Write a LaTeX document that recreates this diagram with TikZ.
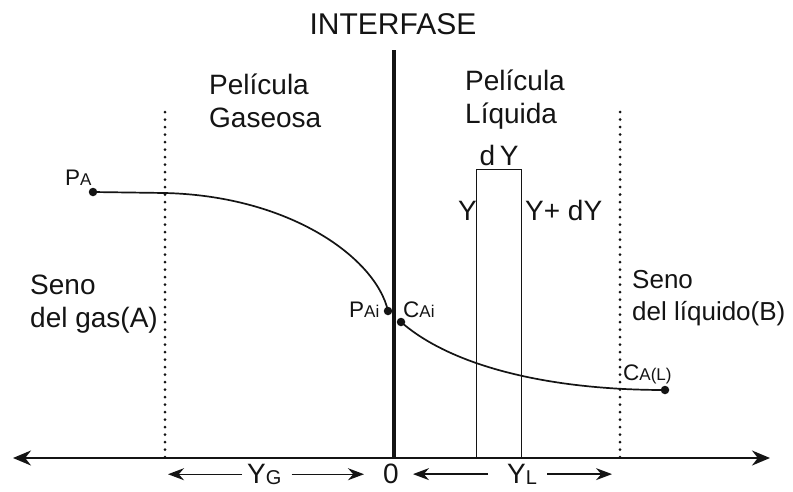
\documentclass[tikz,border=0pt]{standalone}
\usepackage{fontspec}
\setmainfont{Liberation Sans}
\usetikzlibrary{positioning, arrows.meta, calc}
\definecolor{FilmInk}{HTML}{141414}
\definecolor{FilmBG}{HTML}{FFFFFF}
\newcommand{\lowsub}[1]{{\fontsize{17}{19}\selectfont #1}}
\newcommand{\dimsub}[1]{\raisebox{-1.5pt}{\fontsize{20}{21}\selectfont #1}}
\tikzset{
  filmlbl/.style  = {font=\fontsize{28}{33}\selectfont, text=FilmInk,
                     inner sep=0pt, align=left},
  ptlbl/.style    = {font=\fontsize{22.5}{25}\selectfont, text=FilmInk, inner sep=0pt},
  ptdot/.style    = {circle, fill=FilmInk, inner sep=0pt, minimum size=8.5pt},
  profile/.style  = {FilmInk, line width=1.7pt},
  filmedge/.style = {FilmInk, line width=3pt, line cap=round,
                     dash pattern=on 0pt off 7.5pt},
  iface/.style    = {FilmInk, line width=4.8pt},
  slabbox/.style  = {draw=FilmInk, line width=1.4pt, inner sep=0pt},
  axisarr/.style  = {{Stealth[length=18pt, width=15pt]}-{Stealth[length=18pt, width=15pt]},
                     FilmInk, line width=2.2pt},
  dimarr/.style   = {-{Stealth[length=16pt, width=12pt]}, FilmInk, line width=1.4pt},
}

\begin{document}
\begin{tikzpicture}[x=1pt, y=-1pt]
    \fill[FilmBG] (0,0) rectangle (793,491);
    \useasboundingbox (0,0) rectangle (793,491);
    % distance axis and film limits
    \coordinate (axl) at (13,458);
    \coordinate (axr) at (770,458);
    \coordinate (gtop) at (165,112);
    \coordinate (ltop) at (620,112);
    \draw[filmedge] (gtop) -- (gtop |- axl);
    \draw[filmedge] (ltop) -- (ltop |- axl);
    \node[slabbox, minimum width=45pt, minimum height=289pt, anchor=north west] (slab) at (476,169) {};
    \draw[axisarr] (axl) -- (axr);
    % interface
    \node[filmlbl, font=\fontsize{30}{34}\selectfont, anchor=base] (iftitle) at (393,34) {INTERFASE};
    \coordinate (iftop) at (394,50);
    \draw[iface] (iftop) -- (iftop |- axl);
    % region labels
    \node[filmlbl, anchor=base west] (gasfilm) at (209,127) {Película\\Gaseosa};
    \node[filmlbl, anchor=base west] (liqfilm) at (465,123) {Película\\Líquida};
    \node[filmlbl, anchor=base west] (gasbulk) at (30,327) {Seno\\del gas(A)};
    \node[filmlbl, font=\fontsize{26}{32}\selectfont, anchor=base west] (liqbulk) at (632,320) {Seno\\del líquido(B)};
    \node[filmlbl, anchor=base] (dy) at (499,165) {d\,Y};
    \node[filmlbl, anchor=base east] (ylo) at (477,220) {Y};
    \node[filmlbl, anchor=base west] (yhi) at (525,220) {Y+ dY};
    % concentration profile
    \node[ptdot] (pa) at (93,192) {};
    \node[ptdot] (pai) at (388,311) {};
    \node[ptdot] (cai) at (401,322) {};
    \node[ptdot] (cal) at (665,390) {};
    \coordinate (pag) at (165,193);
    \draw[profile] (pa.center) -- (pag) .. controls (290,196) and (376,258) .. (pai.center);
    \draw[profile] (cai.center) .. controls (450,365) and (545,390) .. (cal.center);
    \node[ptlbl, anchor=base west] (palbl) at (65,185) {P\lowsub{A}};
    \node[ptlbl, anchor=base west] (pailbl) at (349,317) {P\lowsub{Ai}};
    \node[ptlbl, anchor=base west] (cailbl) at (403,317) {C\lowsub{Ai}};
    \node[ptlbl, anchor=base west] (callbl) at (623,380) {C\lowsub{A(L)}};
    % film thicknesses
    \node[filmlbl, anchor=base west] (yg) at (247,483) {Y\dimsub{G}};
    \node[filmlbl, anchor=base] (orig) at (391,483) {0};
    \node[filmlbl, anchor=base west] (yl) at (507,483) {Y\dimsub{L}};
    \coordinate (ygl) at (168,477);
    \coordinate (ygr) at (364,477);
    \coordinate (yll) at (413,477);
    \coordinate (ylr) at (612,477);
    \draw[dimarr] ([xshift=-5pt]yg.west) -- (yg.west -| ygl);
    \draw[dimarr] ([xshift=10pt]yg.east) -- (yg.east -| ygr);
    \draw[dimarr] ([xshift=-19pt]yl.west) -- (yl.west -| yll);
    \draw[dimarr] ([xshift=10pt]yl.east) -- (yl.east -| ylr);
\end{tikzpicture}
\end{document}
